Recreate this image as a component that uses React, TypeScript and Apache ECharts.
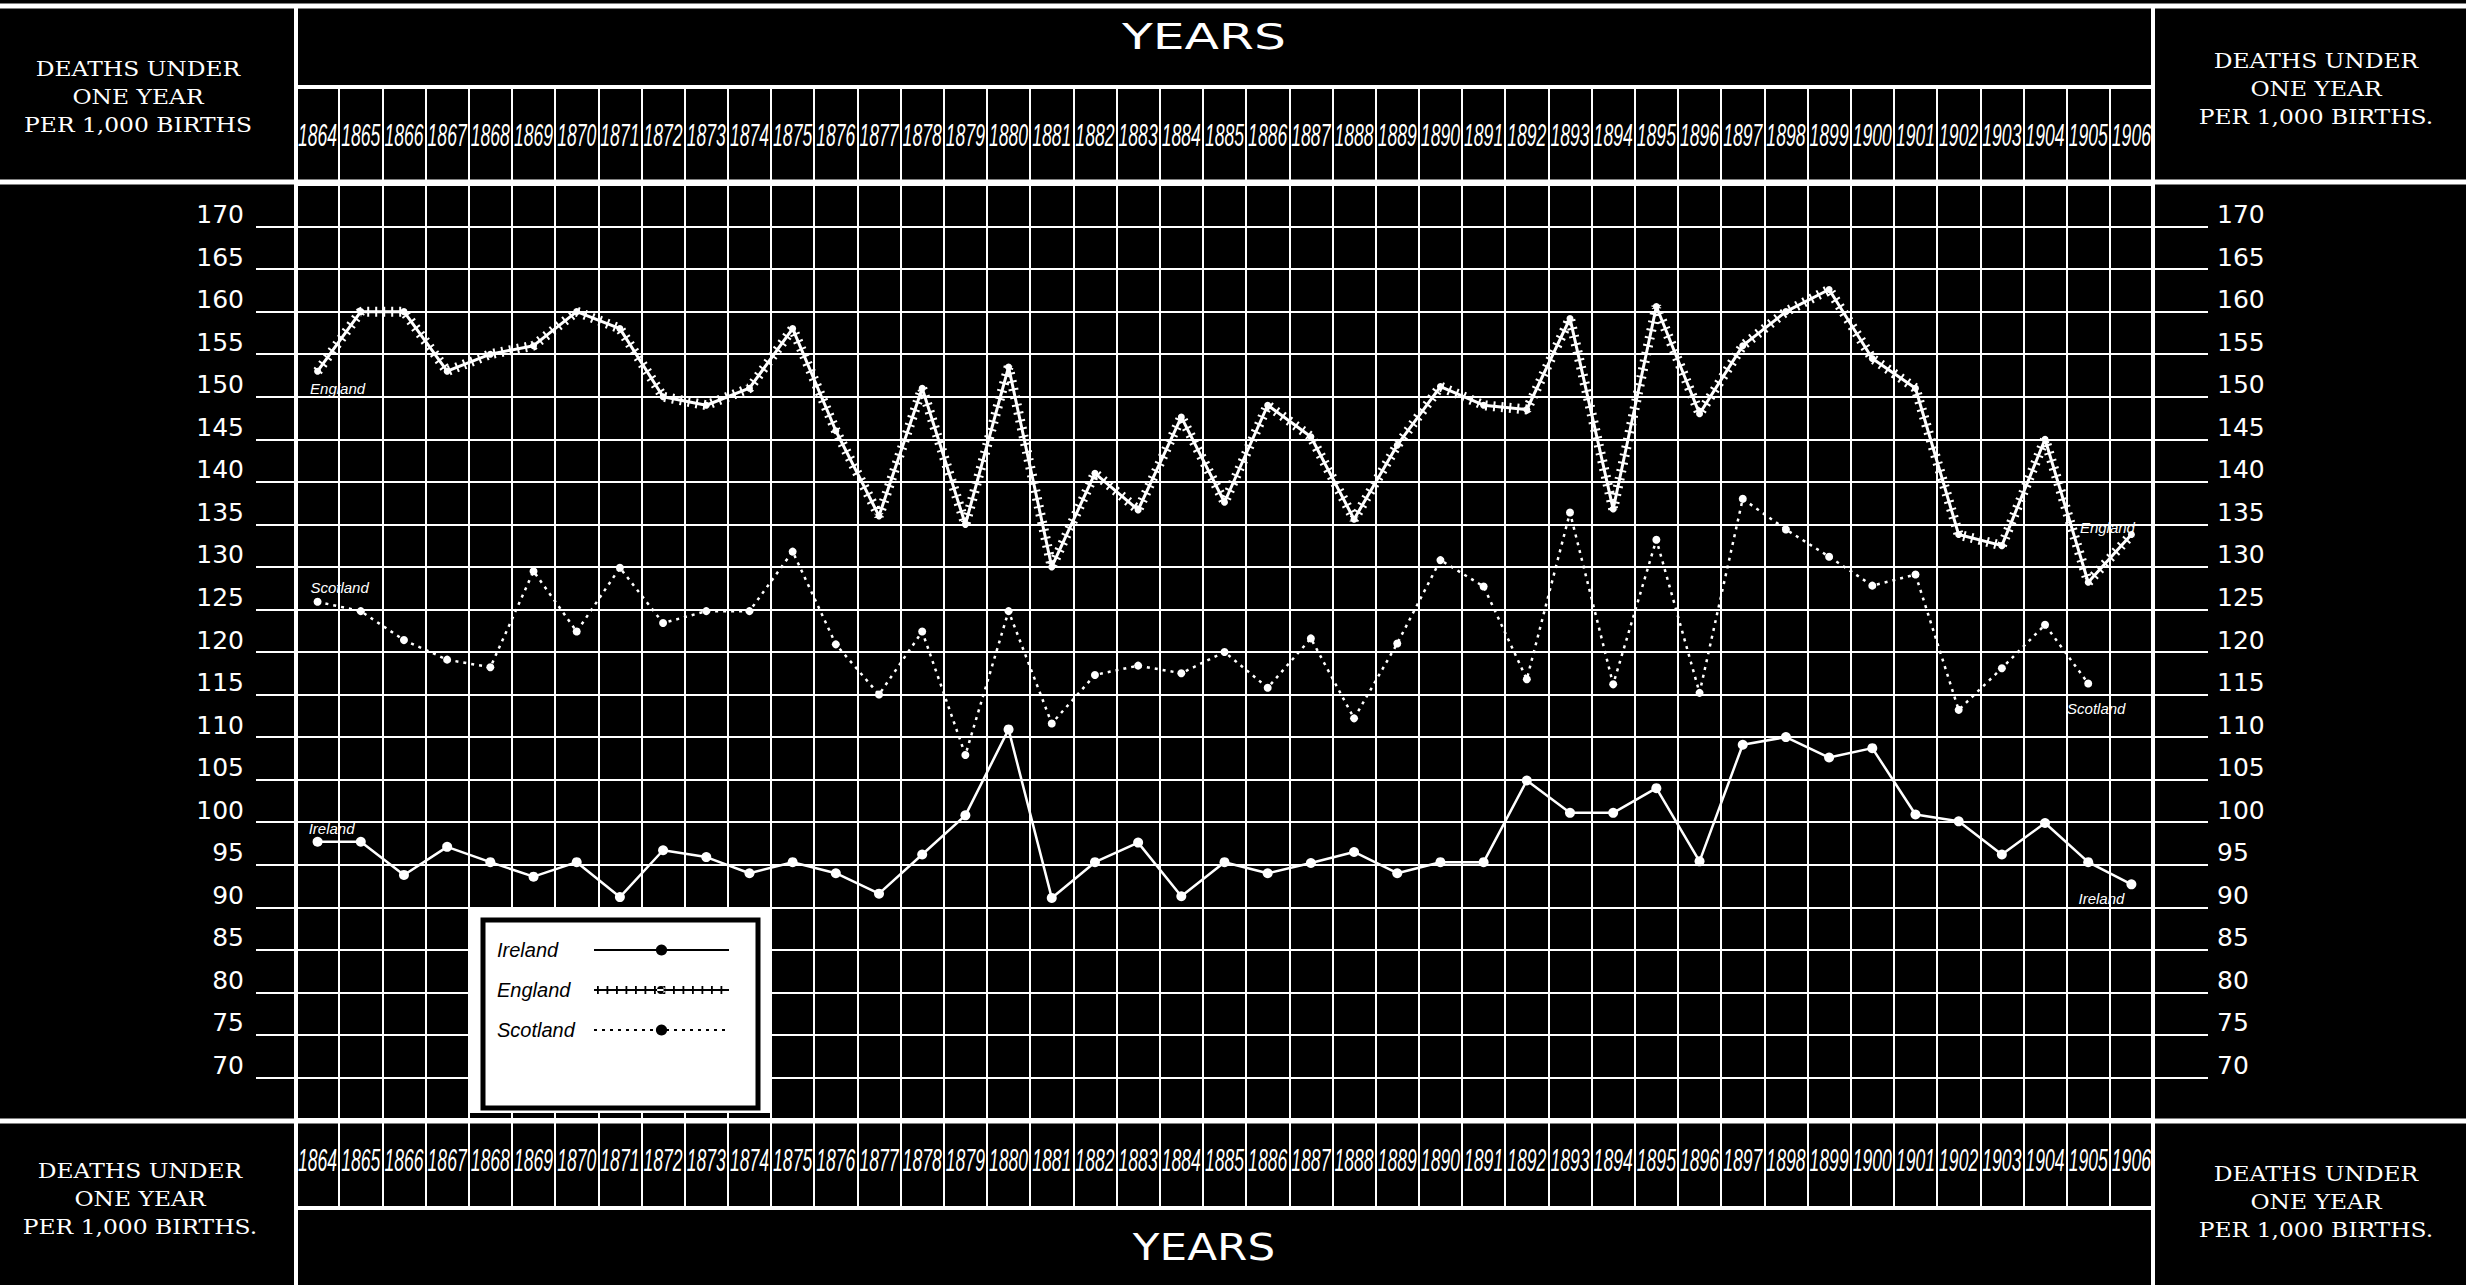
import React, { useEffect, useRef } from "react";
import * as echarts from "echarts";

// ---- data ----
const years = [
  "1864", "1865", "1866", "1867", "1868", "1869", "1870", "1871", "1872", "1873",
  "1874", "1875", "1876", "1877", "1878", "1879", "1880", "1881", "1882", "1883",
  "1884", "1885", "1886", "1887", "1888", "1889", "1890", "1891", "1892", "1893",
  "1894", "1895", "1896", "1897", "1898", "1899", "1900", "1901", "1902", "1903",
  "1904", "1905", "1906",
];

const england = [
  153, 160, 160, 153, 155, 156, 160, 158, 150, 149,
  151, 158, 146, 136, 151, 135, 153.5, 130, 141, 136.7,
  147.6, 137.6, 149, 145.3, 135.6, 144.3, 151.2, 149, 148.5, 159.2,
  136.8, 160.6, 148, 156, 160, 162.6, 154.5, 151, 133.8, 132.5,
  145, 128.2, 133.8,
];

const scotland = [
  125.9, 124.8, 121.4, 119.1, 118.2, 129.5, 122.4, 129.9, 123.4, 124.8,
  124.8, 131.8, 120.9, 115, 122.4, 107.9, 124.8, 111.6, 117.3, 118.4,
  117.5, 120, 115.8, 121.6, 112.2, 121, 130.8, 127.7, 116.8, 136.4,
  116.2, 133.2, 115.2, 138, 134.4, 131.2, 127.8, 129.1, 113.2, 118.1,
  123.2, 116.3, null,
];

const ireland = [
  97.7, 97.7, 93.8, 97.1, 95.3, 93.6, 95.3, 91.2, 96.7, 95.9,
  94, 95.3, 94, 91.6, 96.2, 100.8, 110.9, 91.1, 95.3, 97.6,
  91.3, 95.3, 94, 95.2, 96.5, 94, 95.3, 95.3, 104.9, 101.1,
  101.1, 104, 95.4, 109.1, 110, 107.6, 108.7, 100.9, 100.1, 96.2,
  99.9, 95.3, 92.7,
];

const yTickValues = [
  70, 75, 80, 85, 90, 95, 100, 105, 110, 115, 120,
  125, 130, 135, 140, 145, 150, 155, 160, 165, 170,
];

const Y_MIN = 65;
const Y_MAX = 175;

const seriesNames = ["Ireland", "England", "Scotland"];
const cornerTitleTop = "DEATHS UNDER\nONE YEAR\nPER 1,000 BIRTHS";
const cornerTitleRest = "DEATHS UNDER\nONE YEAR\nPER 1,000 BIRTHS.";
const yearsTitle = "YEARS";

// ---- styles ----
const W = "#ffffff";
const yearFont = "'Liberation Sans', 'DejaVu Sans', sans-serif";
const numFont = "'DejaVu Sans', sans-serif";
const serifFont = "'DejaVu Serif', 'Liberation Serif', serif";
const italicFont = "'Liberation Sans', 'DejaVu Sans', sans-serif";

function englandIconPath(): string {
  let p = "path://M0,6L135,6L135,8L0,8Z";
  for (let i = 0; i < 14; i++) {
    const x = 3 + i * 9.5;
    p += `M${x},3L${x + 1.8},3L${x + 1.8},11L${x},11Z`;
  }
  p += "M63,7A4,4,0,1,0,71,7A4,4,0,1,0,63,7Z";
  return p;
}

function labelPoint(name: string, coord: [string, number], offset: [number, number]) {
  return {
    coord,
    symbol: "circle",
    symbolSize: 1,
    itemStyle: { color: "rgba(0,0,0,0)" },
    label: {
      show: true,
      formatter: name,
      offset,
      color: W,
      fontStyle: "italic",
      fontSize: 15,
      fontFamily: italicFont,
    },
  };
}

function hLine(x1: number, x2: number, y: number, w: number) {
  return {
    type: "line",
    z: 30,
    silent: true,
    shape: { x1, y1: y, x2, y2: y },
    style: { stroke: W, lineWidth: w },
  };
}
function vLine(x: number, y1: number, y2: number, w: number) {
  return {
    type: "line",
    z: 30,
    silent: true,
    shape: { x1: x, y1, x2: x, y2 },
    style: { stroke: W, lineWidth: w },
  };
}
function cornerText(text: string, x: number, y: number) {
  return {
    type: "text",
    x,
    y,
    z: 30,
    silent: true,
    scaleX: 1.17,
    style: {
      text,
      fill: W,
      fontSize: 20,
      fontFamily: serifFont,
      align: "center",
      verticalAlign: "middle",
      lineHeight: 28,
    },
  };
}
function yearsText(x: number, y: number, size: number, sx: number) {
  return {
    type: "text",
    x,
    y,
    z: 30,
    silent: true,
    scaleX: sx,
    style: {
      text: yearsTitle,
      fill: W,
      fontSize: size,
      fontFamily: numFont,
      align: "center",
      verticalAlign: "middle",
    },
  };
}

export default function App() {
  const ref = useRef<HTMLDivElement>(null);

  useEffect(() => {
    if (!ref.current) return;
    const chart = echarts.init(ref.current, null, { renderer: "svg" });

    const yLabelFormatter = (v: number) => (v >= 70 && v <= 170 ? String(v) : "");

    const yearLabelStyle = (text: string) => ({
      text,
      fill: W,
      fontSize: 32,
      fontStyle: "italic",
      fontFamily: yearFont,
      align: "center",
      verticalAlign: "middle",
    });

    const option: any = {
      animation: false,
      backgroundColor: "#000",
      grid: { left: 296, right: 313, top: 184, bottom: 165, show: false },
      xAxis: [
        {
          type: "category",
          data: years,
          position: "bottom",
          boundaryGap: true,
          axisLine: { show: true, lineStyle: { color: W, width: 4 } },
          axisTick: { show: true, interval: 0, length: 88, lineStyle: { color: W, width: 2 } },
          axisLabel: { show: false },
          splitLine: { show: true, interval: 0, lineStyle: { color: W, width: 2 } },
        },
        {
          type: "category",
          data: years,
          position: "top",
          boundaryGap: true,
          axisLine: { show: true, lineStyle: { color: W, width: 4 } },
          axisTick: { show: true, interval: 0, length: 97, lineStyle: { color: W, width: 2 } },
          axisLabel: { show: false },
          splitLine: { show: false },
        },
      ],
      yAxis: [
        {
          type: "value",
          min: Y_MIN,
          max: Y_MAX,
          interval: 5,
          position: "left",
          axisLine: { show: true, lineStyle: { color: W, width: 4 } },
          axisTick: { show: true, length: 40, customValues: yTickValues, lineStyle: { color: W, width: 2 } },
          axisLabel: {
            customValues: yTickValues,
            formatter: yLabelFormatter,
            color: W,
            fontSize: 25,
            fontFamily: numFont,
            margin: 52,
            verticalAlign: "bottom",
            lineHeight: 24,
          },
          splitLine: { show: true, lineStyle: { color: W, width: 2 } },
        },
        {
          type: "value",
          min: Y_MIN,
          max: Y_MAX,
          interval: 5,
          position: "right",
          axisLine: { show: true, lineStyle: { color: W, width: 4 } },
          axisTick: { show: true, length: 55, customValues: yTickValues, lineStyle: { color: W, width: 2 } },
          axisLabel: {
            customValues: yTickValues,
            formatter: yLabelFormatter,
            color: W,
            fontSize: 25,
            fontFamily: numFont,
            margin: 64,
            verticalAlign: "bottom",
            lineHeight: 24,
          },
          splitLine: { show: false },
        },
      ],
      legend: {
        data: [
          { name: seriesNames[0] },
          { name: seriesNames[1], icon: englandIconPath() },
          { name: seriesNames[2] },
        ],
        orient: "vertical",
        left: 497,
        top: 940,
        align: "right",
        selectedMode: false,
        z: 60,
        itemWidth: 135,
        itemHeight: 14,
        itemGap: 20,
        padding: 0,
        lineStyle: { color: "#000", width: 2 },
        itemStyle: { color: "#000", borderWidth: 0 },
        formatter: "{n|{name}}",
        textStyle: {
          color: "#000",
          fontStyle: "italic",
          fontSize: 20,
          fontFamily: italicFont,
          rich: {
            n: {
              width: 92,
              align: "left",
              lineHeight: 22,
              color: "#000",
              fontStyle: "italic",
              fontSize: 20,
              fontFamily: italicFont,
            },
          },
        },
      },
      series: [
        {
          name: seriesNames[0],
          type: "line",
          data: ireland,
          symbol: "circle",
          symbolSize: 10,
          lineStyle: { color: W, width: 2.5 },
          itemStyle: { color: W },
          z: 5,
          markPoint: {
            silent: true,
            data: [
              labelPoint("Ireland", [years[0], ireland[0]], [14, -13]),
              labelPoint("Ireland", [years[42], ireland[42]], [-30, 14]),
            ],
          },
        },
        {
          name: seriesNames[1],
          type: "line",
          data: england,
          symbol: "circle",
          symbolSize: 7,
          lineStyle: { color: W, width: 3 },
          itemStyle: { color: W },
          z: 5,
          markPoint: {
            silent: true,
            data: [
              labelPoint("England", [years[0], england[0]], [20, 17]),
              labelPoint("England", [years[42], england[42]], [-24, -7]),
            ],
          },
        },
        {
          name: "England ticks",
          type: "line",
          data: england,
          symbol: "none",
          silent: true,
          lineStyle: { color: W, width: 10, type: [2, 6] },
          z: 4,
        },
        {
          name: seriesNames[2],
          type: "line",
          data: scotland,
          symbol: "circle",
          symbolSize: 8,
          lineStyle: { color: W, width: 2.5, type: [3, 5] },
          itemStyle: { color: W },
          z: 5,
          markPoint: {
            silent: true,
            data: [
              labelPoint("Scotland", [years[0], scotland[0] as number], [22, -14]),
              labelPoint("Scotland", [years[41], scotland[41] as number], [8, 25]),
            ],
          },
        },
        {
          name: "year labels",
          type: "custom",
          data: years.map((y) => [y]),
          encode: { x: 0 },
          clip: false,
          silent: true,
          z: 40,
          renderItem: (params: any, api: any) => {
            const idx = api.value(0);
            const top = api.coord([idx, Y_MAX]);
            const bot = api.coord([idx, Y_MIN]);
            const text = years[params.dataIndex];
            return {
              type: "group",
              children: [
                { type: "text", x: top[0], y: top[1] - 49, scaleX: 0.55, style: yearLabelStyle(text) },
                { type: "text", x: bot[0], y: bot[1] + 40, scaleX: 0.55, style: yearLabelStyle(text) },
              ],
            };
          },
        },
      ],
      graphic: [
        {
          type: "rect",
          z: 50,
          silent: true,
          shape: { x: 470, y: 908, width: 301, height: 205 },
          style: { fill: "#fff" },
        },
        {
          type: "rect",
          z: 51,
          silent: true,
          shape: { x: 483, y: 920, width: 275, height: 188 },
          style: { fill: "#fff", stroke: "#000", lineWidth: 5 },
        },
        hLine(0, 2466, 6, 5),
        hLine(296, 2153, 87, 4),
        hLine(0, 2466, 182, 5),
        hLine(0, 2466, 1121, 5),
        hLine(296, 2153, 1208, 4),
        vLine(296, 4, 1285, 4),
        vLine(2153, 4, 1285, 4),
        cornerText(cornerTitleTop, 138, 97),
        cornerText(cornerTitleRest, 2316, 89),
        cornerText(cornerTitleRest, 140, 1199),
        cornerText(cornerTitleRest, 2316, 1202),
        yearsText(1204, 36, 36, 1.4),
        yearsText(1204, 1247, 38, 1.15),
      ],
    };

    chart.setOption(option);
    return () => chart.dispose();
  }, []);

  return (
    <div
      ref={ref}
      style={{ position: "absolute", left: 0, top: 0, width: 2466, height: 1285, background: "#000" }}
    />
  );
}
